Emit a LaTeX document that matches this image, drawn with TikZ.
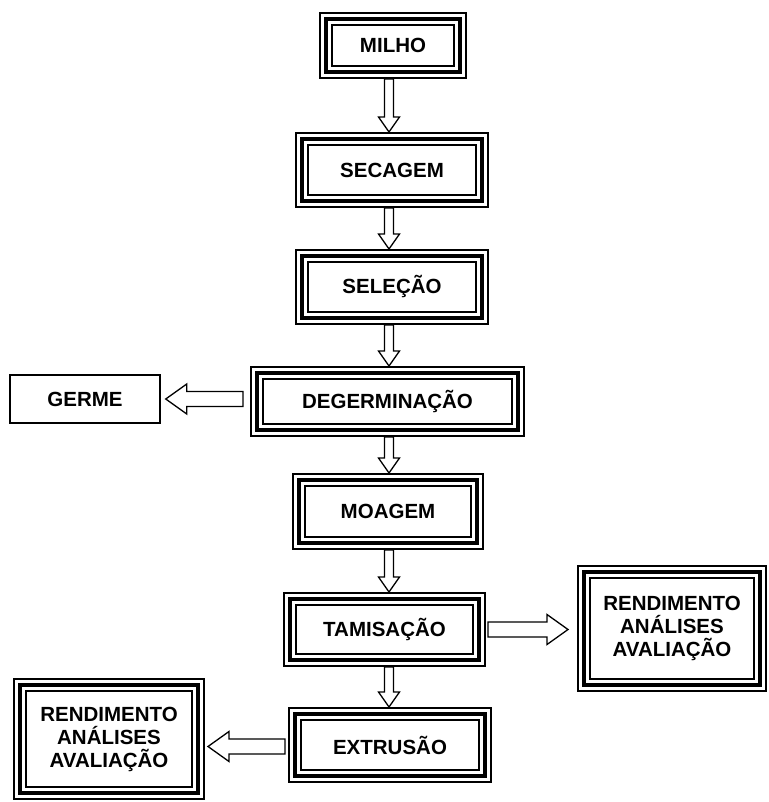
\documentclass[tikz,border=0pt]{standalone}
\usepackage{fontspec}
\setmainfont{Liberation Sans}
\usetikzlibrary{calc}

\tikzset{
	etapa/.style={draw, line width=14pt, fill=white, inner sep=0pt, outer sep=7pt,
		align=center, font=\bfseries\fontsize{20.5}{23}\selectfont,
		postaction={draw=white, line width=10.6pt},
		postaction={draw=black, line width=4.6pt}},
	caixa/.style={draw, line width=1.5pt, inner sep=0pt, align=center,
		font=\bfseries\fontsize{20.5}{23}\selectfont},
	% hollow block arrow: half shaft / half head / head length
	seta/.style n args={3}{line width=1.3pt, line join=miter, to path={
		($(\tikztotarget)!#3!(\tikztostart)$) coordinate (hb)
		($(\tikztostart)!#1!90:(\tikztotarget)$) -- ($(hb)!#1!90:(\tikztotarget)$)
		-- ($(hb)!#2!90:(\tikztotarget)$) -- (\tikztotarget)
		-- ($(hb)!#2!-90:(\tikztotarget)$) -- ($(hb)!#1!-90:(\tikztotarget)$)
		-- ($(\tikztostart)!#1!-90:(\tikztotarget)$) -- cycle}},
	setav/.style={seta={4.5pt}{10.5pt}{15pt}},
	setah/.style={seta={7.5pt}{15pt}{21pt}},
}

\begin{document}
\begin{tikzpicture}[x=1pt, y=1pt]
	\useasboundingbox (0,0) rectangle (768,-802);
	%
	\node[etapa, minimum width=134pt, minimum height=53pt] (milho) at (393,-45.5) {MILHO};
	\node[etapa, minimum width=180pt, minimum height=62pt] (secagem) at (392,-170) {SECAGEM};
	\node[etapa, minimum width=180pt, minimum height=62pt] (selecao) at (392,-287) {SELEÇÃO};
	\node[etapa, minimum width=261pt, minimum height=57pt] (degerm) at (387.5,-401.5) {DEGERMINAÇÃO};
	\node[caixa, minimum width=150pt, minimum height=48pt] (germe) at (85,-399) {GERME};
	\node[etapa, minimum width=178pt, minimum height=63pt] (moagem) at (388,-511.5) {MOAGEM};
	\node[etapa, minimum width=189pt, minimum height=61pt] (tamis) at (384.5,-629.5) {TAMISAÇÃO};
	\node[etapa, minimum width=176pt, minimum height=113pt] (rendA) at (672,-628.5) {RENDIMENTO\\ANÁLISES\\AVALIAÇÃO};
	\node[etapa, minimum width=190pt, minimum height=62pt] (extrusao) at (390,-745) {EXTRUSÃO};
	\node[etapa, minimum width=178pt, minimum height=108pt] (rendB) at (109,-739) {RENDIMENTO\\ANÁLISES\\AVALIAÇÃO};
	%
	\coordinate (eixo) at (389,0);
	\coordinate (g1) at ($(degerm.west)+(-7,0)$);
	\coordinate (g2) at ($(germe.east)+(5,0)$);
	\coordinate (r1) at ($(tamis.east)+(2,0)$);
	\coordinate (r2) at ($(rendA.west)+(-9,0)$);
	\coordinate (e1) at ($(extrusao.west)+(-3,-1.5)$);
	\coordinate (e2) at ($(rendB.east)+(3,-4.5)$);
	%
	\draw[setav] (milho.south -| eixo) to (secagem.north -| eixo);
	\draw[setav] (secagem.south -| eixo) to (selecao.north -| eixo);
	\draw[setav] (selecao.south -| eixo) to (degerm.north -| eixo);
	\draw[setav] (degerm.south -| eixo) to (moagem.north -| eixo);
	\draw[setav] (moagem.south -| eixo) to (tamis.north -| eixo);
	\draw[setav] (tamis.south -| eixo) to (extrusao.north -| eixo);
	\draw[setah] (g1 |- germe) to (g2);
	\draw[setah] (r1) to (r2 |- r1);
	\draw[setah] (e1) to (e2 |- e1);
\end{tikzpicture}
\end{document}
